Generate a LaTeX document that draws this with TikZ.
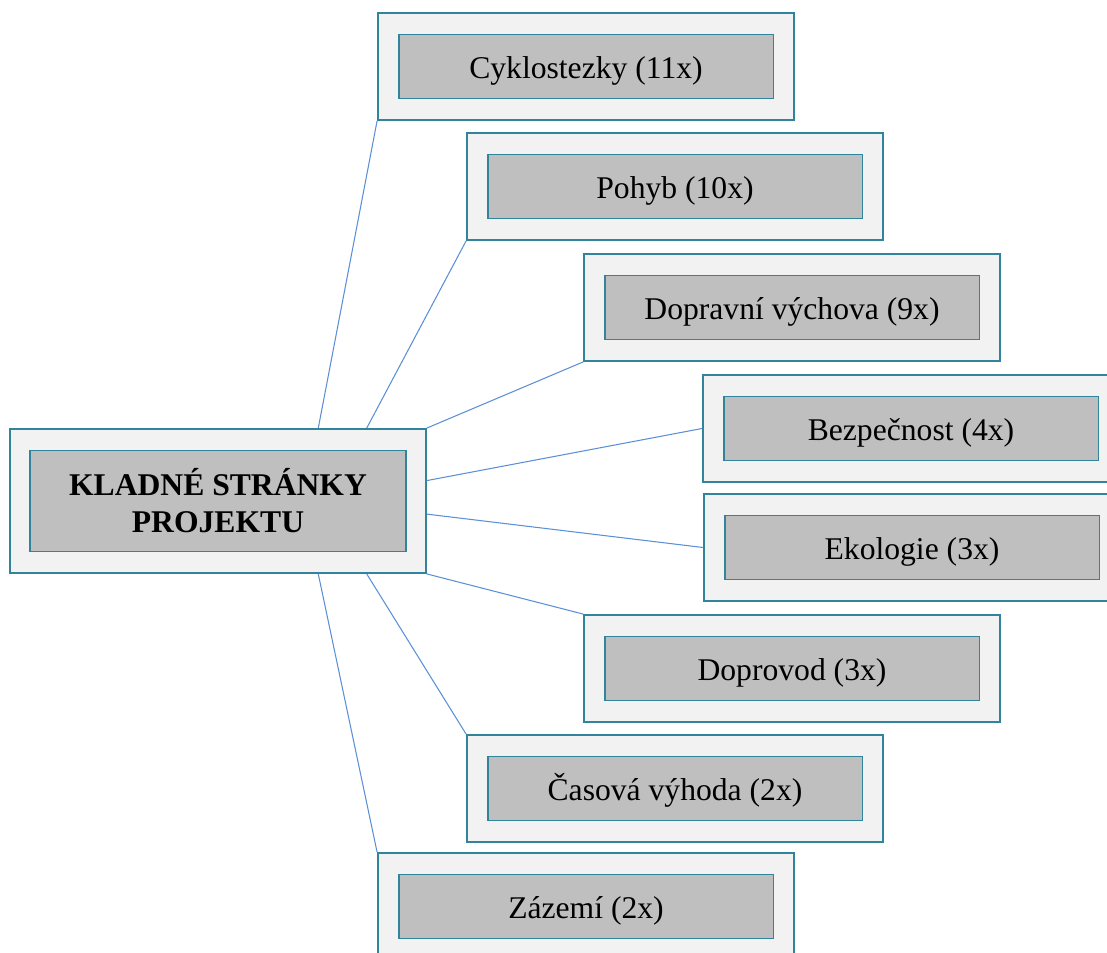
\documentclass[tikz,border=0pt]{standalone}
\usepackage{fontspec}
\setmainfont{Liberation Serif}
\usepackage{tikz}
\usetikzlibrary{calc}
\definecolor{frame-teal}{HTML}{31849B}
\definecolor{outer-gray}{HTML}{F2F2F2}
\definecolor{inner-gray}{HTML}{BFBFBF}
\definecolor{link-blue}{HTML}{5B8FD6}

\begin{document}
\begin{tikzpicture}[x=0.02cm,y=-0.02cm,
	outerbox/.style={draw=frame-teal,line width=1.1pt,fill=outer-gray,minimum width=8.32cm,minimum height=2.14cm,inner sep=0pt},
	innerbox/.style={draw=frame-teal,line width=1.1pt,fill=inner-gray,minimum width=7.5cm,minimum height=1.28cm,inner sep=0pt,font=\fontsize{18}{21}\selectfont},
	link/.style={link-blue,line width=0.6pt}]
	
	\useasboundingbox (0,0) rectangle (1107,953);
	
	%--- LINKS (drawn first, under the boxes) ---
	
	% Hub frame, needed for the link end points
	\node [outerbox,minimum width=8.32cm,minimum height=2.88cm] (hubo) at (218,501) {};
	
	% Outer frames
	\foreach \n/\x/\y in {c1/586/66.5, c2/675/186.5, c3/792/307.5, c4/911/428.5,
	                      c5/912/547.5, c6/792/668.5, c7/675/788.5, c8/586/906.5}{
		\node [outerbox] (\n o) at (\x,\y) {};
	}
	
	% Links from the hub
	\draw [link] ($(hubo.north west)!0.74!(hubo.north east)$) -- (c1o.south west);
	\draw [link] ($(hubo.north west)!0.856!(hubo.north east)$) -- (c2o.south west);
	\draw [link] (hubo.north east) -- (c3o.south west);
	\draw [link] ($(hubo.north east)!0.36!(hubo.south east)$) -- (c4o.west);
	\draw [link] ($(hubo.north east)!0.59!(hubo.south east)$) -- (c5o.west);
	\draw [link] (hubo.south east) -- (c6o.north west);
	\draw [link] ($(hubo.south west)!0.856!(hubo.south east)$) -- (c7o.north west);
	\draw [link] ($(hubo.south west)!0.74!(hubo.south east)$) -- (c8o.north west);
	
	%--- INNER BOXES -----------------------------
	
	% Hub
	\node [innerbox,minimum width=7.52cm,minimum height=2.02cm,align=center,font=\fontsize{18}{21}\selectfont\bfseries]
		(hub) at (hubo.center) {KLADNÉ STRÁNKY\\PROJEKTU};
	
	% Items
	\foreach \n/\t in {c1/{Cyklostezky (11x)}, c2/{Pohyb (10x)}, c3/{Dopravní výchova (9x)},
	                   c4/{Bezpečnost (4x)}, c5/{Ekologie (3x)}, c6/{Doprovod (3x)},
	                   c7/{Časová výhoda (2x)}, c8/{Zázemí (2x)}}{
		\node [innerbox,text height=17pt,text depth=3.4pt] (\n) at (\n o.center) {\t};
	}
	
\end{tikzpicture}
\end{document}
